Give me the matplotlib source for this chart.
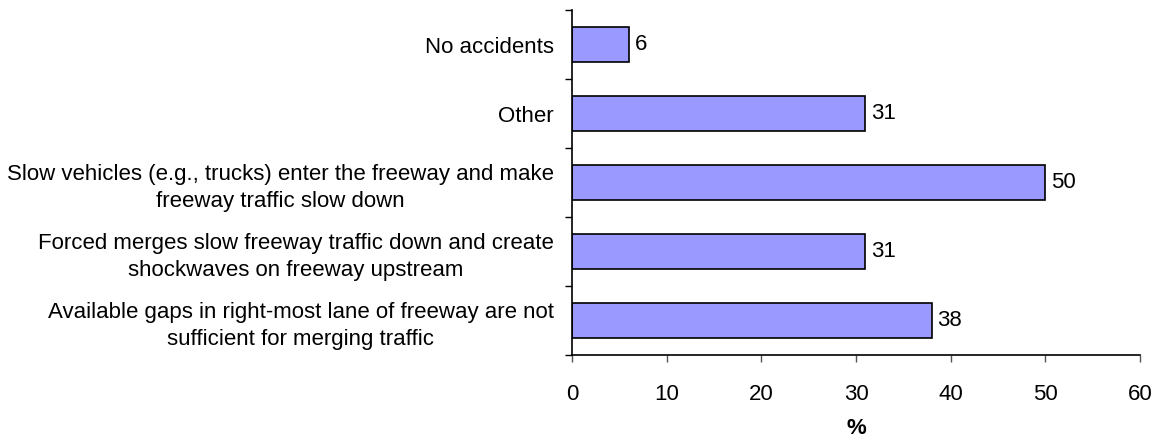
import numpy as np
import matplotlib.pyplot as plt

plt.rcParams['font.family'] = ['Liberation Sans', 'DejaVu Sans']

# Categories listed from bottom to top
categories = [
    'Available gaps in right-most lane of freeway are not\nsufficient for merging traffic',
    'Forced merges slow freeway traffic down and create\nshockwaves on freeway upstream',
    'Slow vehicles (e.g., trucks) enter the freeway and make\nfreeway traffic slow down',
    'Other',
    'No accidents',
]
values = [38, 31, 50, 31, 6]
x_ticks = [0, 10, 20, 30, 40, 50, 60]

fs = 16

fig = plt.figure(figsize=(11.61, 4.41), dpi=100)
ax = fig.add_axes([0.4927, 0.195, 0.4892, 0.782])

y = np.arange(len(categories))
ax.barh(y, values, height=0.5, color='#9999FF', edgecolor='black', linewidth=1.2)

for yi, v in zip(y, values):
    ax.annotate(f'{v}', (v, yi), textcoords='offset points', xytext=(4, 0),
                ha='left', va='center', fontsize=fs)

ax.set_xlim(0, 60)
ax.set_ylim(-0.5, len(categories) - 0.5)
ax.set_xticks(x_ticks)
ax.set_yticks(y)
ax.set_yticklabels(categories, fontsize=fs, multialignment='center', linespacing=1.4)
ax.set_yticks(np.arange(-0.5, len(categories)), minor=True)
ax.tick_params(axis='y', which='major', length=0, pad=13)
ax.tick_params(axis='y', which='minor', length=5, width=1, color='black', direction='out')
ax.tick_params(axis='x', length=5, width=1, color='#555555', labelsize=fs, pad=16)
ax.set_xlabel('%', fontsize=fs, fontweight='bold', labelpad=9)

for side in ['top', 'right']:
    ax.spines[side].set_visible(False)
for side in ['left', 'bottom']:
    ax.spines[side].set_linewidth(1.2)

fig.savefig('out.png', dpi=100)
